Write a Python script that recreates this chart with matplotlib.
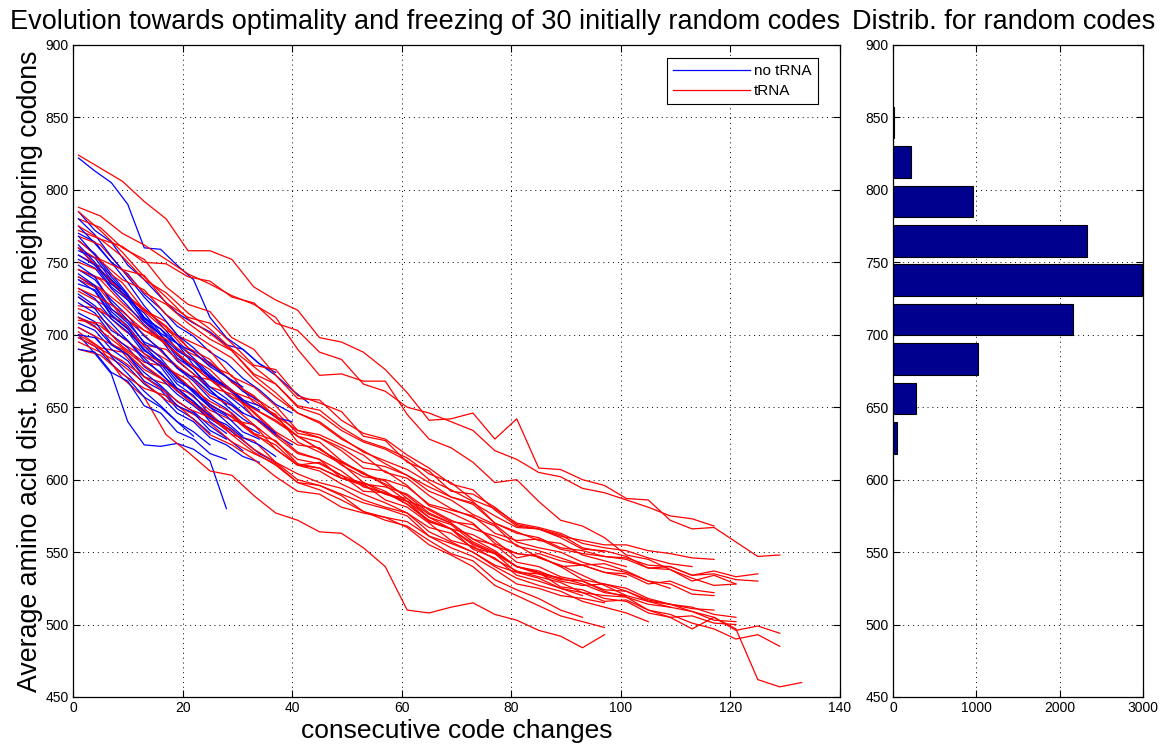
import matplotlib
matplotlib.use("Agg")
import matplotlib.pyplot as plt
import numpy as np

# runs without tRNA, one value every 3 code changes starting at change 1
blue_step = 3
no_trna_runs = [
    [822, 813, 805, 790, 760, 759, 748, 738, 712, 698, 690, 680, 672, 662, 653],
    [785, 772, 764, 748, 738, 726, 715, 708, 702, 693, 690, 680, 674],
    [770, 764, 750, 742, 728, 718, 706, 699, 688, 681, 670, 662, 652, 646],
    [760, 748, 738, 724, 715, 701, 694, 679, 671, 659, 650, 640, 631, 624],
    [700, 687, 673, 640, 624, 623, 625, 621, 613, 580],
    [775, 763, 750, 736, 720, 707, 694, 684, 673, 663, 655],
    [765, 756, 742, 728, 710, 700, 684, 676, 662, 651, 642, 635],
    [752, 746, 732, 720, 707, 697, 682, 673, 662, 652],
    [745, 738, 724, 713, 699, 690, 677, 668, 656, 649, 638, 632],
    [740, 733, 716, 706, 692, 681, 671, 660, 650, 640, 630],
    [735, 731, 714, 704, 690, 680, 666, 658, 645, 636],
    [728, 720, 708, 696, 684, 673, 663, 654, 644, 636, 627, 618, 612],
    [722, 715, 700, 691, 678, 670, 659, 651, 642, 635],
    [715, 709, 694, 686, 674, 665, 654, 647, 637, 629, 620],
    [708, 703, 690, 682, 668, 662, 649, 642, 632],
    [700, 698, 686, 678, 666, 658, 646, 640, 629, 624, 616, 612],
    [698, 692, 680, 670, 657, 650, 640, 633, 624],
    [705, 699, 685, 673, 661, 651, 640, 630],
    [780, 769, 754, 740, 726, 714, 700, 691, 680, 671, 661, 654],
    [758, 753, 738, 727, 712, 704, 690, 683, 671, 665, 655, 651, 643, 640],
    [748, 740, 722, 710, 694, 684, 670, 661, 652, 645],
    [768, 755, 740, 727, 712, 700, 686, 676, 664, 656, 646],
    [742, 734, 718, 708, 695, 690, 677, 670, 660, 654, 646, 641, 632],
    [732, 725, 711, 702, 687, 678, 663, 654, 640, 632],
    [755, 748, 733, 724, 709, 700, 689, 682, 670, 664, 654, 648],
    [712, 706, 693, 686, 671, 664, 651, 646, 634, 628],
    [762, 750, 735, 726, 711, 704, 694, 688, 678, 671, 664],
    [738, 730, 713, 704, 689, 682, 668, 662, 650, 644, 633, 628],
    [726, 718, 703, 696, 682, 674, 661, 654, 643, 638, 629, 624, 616],
    [690, 688, 674, 668, 651, 646, 633, 628, 618, 614],
]

# runs with tRNA, one value every 4 code changes starting at change 1
red_step = 4
trna_runs = [
    [824, 815, 806, 792, 780, 758, 758, 752, 733, 724, 717, 698, 695, 688, 676, 660, 641,
     642, 646, 628, 642, 608, 607, 600, 596, 587, 586, 572, 566, 567, 557, 547, 548],
    [788, 782, 770, 762, 752, 742, 735, 727, 721, 712, 690, 672, 673, 668, 668, 645, 628,
     622, 612, 598, 600, 585, 572, 568, 560, 548, 545, 538, 530, 534, 528],
    [772, 766, 761, 750, 749, 740, 737, 726, 722, 708, 703, 688, 683, 666, 661, 650, 646,
     640, 634, 620, 614, 605, 602, 594, 591, 586, 581, 575, 573, 568],
    [745, 738, 722, 709, 694, 680, 672, 662, 649, 641, 630, 621, 612, 605, 596, 585, 580,
     572, 566, 561, 555, 546, 541, 534, 527, 520, 516, 512, 509, 505, 497, 462, 457, 460],
    [730, 722, 713, 700, 685, 672, 669, 657, 649, 640, 630, 621, 612, 604, 597, 589, 577,
     570, 559, 555, 543, 540, 533, 530, 523, 519, 510, 507, 501, 497, 490, 493, 485],
    [712, 706, 694, 685, 677, 669, 652, 643, 631, 624, 610, 608, 601, 596, 590, 585, 574,
     569, 557, 550, 540, 536, 526, 524, 518, 516, 508, 505, 497, 505, 496, 499, 494],
    [702, 691, 670, 657, 631, 619, 606, 603, 589, 577, 572, 564, 563, 553, 540, 510, 508,
     512, 515, 507, 503, 496, 492, 484, 493],
    [768, 762, 745, 741, 722, 712, 708, 694, 679, 676, 658, 653, 647, 630, 627, 612, 606,
     592, 590, 581, 569, 566, 562, 553, 550],
    [700, 691, 688, 671, 666, 660, 648, 641, 638, 621, 610, 612, 603, 597, 595, 590, 579,
     571, 569, 558, 546, 549, 544, 541, 542, 537, 530, 528, 521, 520],
    [760, 745, 729, 718, 705, 688, 681, 668, 657, 647, 632, 629, 620, 608, 606, 596, 582,
     577, 570, 556, 549, 547, 540, 531, 528, 523, 517, 514, 509, 503, 502],
    [745, 739, 731, 716, 703, 696, 689, 671, 664, 651, 634, 631, 624, 617, 605, 601, 589,
     580, 574, 568, 554, 551, 546, 541, 536, 533],
    [720, 718, 704, 693, 690, 676, 664, 659, 647, 633, 624, 622, 610, 602, 600, 595, 583,
     579, 575, 563, 558, 559, 552, 549, 547, 545, 539, 540, 534, 537, 533, 535],
    [755, 747, 736, 717, 709, 691, 679, 672, 653, 645, 626, 619, 611, 598, 592, 583, 571,
     566, 555, 549, 536, 532, 525, 520],
    [710, 708, 692, 681, 678, 665, 651, 644, 632, 627, 611, 608, 601, 598, 590, 587, 574,
     566, 562, 554, 549, 547, 540, 541, 536, 535, 528, 530, 524, 522],
    [780, 774, 760, 752, 733, 721, 716, 698, 690, 672, 656, 655, 641, 632, 628, 617, 608,
     597, 593, 579, 568, 566, 560, 552, 551, 547, 539, 538, 532, 527, 528],
    [695, 688, 679, 667, 655, 647, 639, 626, 618, 611, 598, 596, 590, 584, 580, 575, 561,
     553, 547, 538, 528, 525, 520, 518, 515],
    [738, 731, 712, 703, 694, 681, 669, 661, 643, 630, 618, 614, 601, 597, 586, 581, 570,
     558, 554, 545, 537, 533, 529, 522, 520, 519, 514, 512],
    [726, 716, 709, 692, 683, 673, 658, 651, 638, 626, 614, 611, 603, 592, 591, 585, 571,
     566, 556, 549, 540, 537, 531, 530, 524, 523, 516, 514, 511, 510],
    [765, 752, 745, 729, 721, 708, 697, 689, 673, 666, 650, 645, 634, 626, 621, 613, 600,
     593, 585, 570, 564, 558, 556, 548, 544, 540],
    [690, 686, 673, 663, 658, 645, 631, 624, 614, 602, 592, 590, 581, 577, 574, 571, 561,
     556, 550, 541, 536, 535, 530, 527, 528, 525, 518, 514, 512, 507, 505],
    [750, 744, 728, 717, 706, 691, 683, 667, 658, 643, 630, 626, 613, 604, 599, 587, 576,
     570, 559, 551, 540, 535, 532],
    [740, 732, 720, 706, 693, 681, 669, 661, 646, 632, 619, 614, 606, 595, 591, 583, 572,
     566, 552, 546, 534, 530, 525, 522, 516, 517, 510, 505, 506, 501, 500],
    [705, 697, 690, 676, 668, 655, 646, 631, 627, 612, 604, 598, 594, 586, 581, 577, 567,
     563, 553, 549, 540, 536, 532, 528, 522, 520],
    [775, 766, 754, 738, 729, 715, 704, 690, 678, 666, 651, 648, 636, 627, 622, 615, 604,
     598, 586, 580, 570, 567, 563, 556, 553, 551, 546, 542, 540],
    [718, 712, 698, 687, 679, 665, 654, 646, 632, 621, 610, 606, 597, 590, 584, 577, 564,
     557, 550, 540, 532, 527, 523, 516, 512, 508, 502],
    [760, 751, 738, 731, 714, 703, 693, 684, 669, 657, 646, 640, 629, 619, 613, 607, 598,
     588, 583, 570, 563, 560, 553, 551, 547, 546, 541, 540, 534, 535, 531, 530],
    [698, 690, 682, 671, 660, 649, 643, 631, 619, 610, 598, 593, 586, 578, 572, 568, 558,
     549, 544, 531, 524, 518, 510, 505],
    [732, 725, 716, 703, 697, 685, 676, 661, 655, 644, 634, 629, 622, 612, 609, 603, 595,
     588, 584, 575, 567, 566, 561, 558, 555, 555, 551, 549, 546, 545],
    [785, 772, 757, 740, 726, 711, 701, 689, 672, 660, 646, 639, 628, 620, 611, 603, 592,
     586, 576, 569, 557, 553, 550, 543, 539, 536, 530, 525],
    [712, 703, 691, 679, 668, 655, 643, 634, 621, 612, 600, 596, 589, 578, 574, 567, 555,
     548, 540, 527, 520, 513, 506, 502, 498],
]

# histogram of random codes
hist_centers = [601.7, 628.9, 656.1, 683.3, 710.5, 737.7, 764.9, 792.1, 819.3, 846.5]
hist_counts = [1, 48, 272, 1020, 2160, 2985, 2330, 960, 212, 15]
bin_width = 27.2

tick_font = ["Liberation Sans Narrow", "Liberation Sans", "DejaVu Sans"]
label_font = ["Liberation Sans", "DejaVu Sans"]

W, H = 1167, 749
fig = plt.figure(figsize=(W / 100, H / 100), dpi=100)
ax = fig.add_axes([73 / W, 52 / H, 767 / W, 652 / H])
ax_h = fig.add_axes([893 / W, 52 / H, 250 / W, 652 / H])

h_blue = h_red = None
for i in range(max(len(no_trna_runs), len(trna_runs))):
    if i < len(no_trna_runs):
        y = no_trna_runs[i]
        x = 1 + blue_step * np.arange(len(y))
        h_blue, = ax.plot(x, y, color=(0, 0, 1), lw=0.9)
    if i < len(trna_runs):
        y = trna_runs[i]
        x = 1 + red_step * np.arange(len(y))
        h_red, = ax.plot(x, y, color=(1, 0, 0), lw=0.9)

ax.set_xlim(0, 140)
ax.set_ylim(450, 900)
ax.set_xticks(np.arange(0, 141, 20))
ax.set_yticks(np.arange(450, 901, 50))
ax.set_xlabel("consecutive code changes", fontsize=19, family=label_font, labelpad=3)
ax.set_ylabel("Average amino acid dist. between neighboring codons", fontsize=19.3,
              family=label_font, labelpad=2)
leg = ax.legend([h_blue, h_red], ["no tRNA", "tRNA"], loc="upper right",
                bbox_to_anchor=(0.971, 0.98), borderaxespad=0, fancybox=False,
                framealpha=1, edgecolor="black", handlelength=5.0, handletextpad=0.3,
                borderpad=0.4, labelspacing=0.4, prop={"family": tick_font, "size": 11})
leg.get_frame().set_linewidth(0.8)

ax_h.barh(hist_centers, hist_counts, height=0.8 * bin_width, color=(0, 0, 0.56),
          edgecolor="black", linewidth=0.8)
ax_h.set_xlim(0, 3000)
ax_h.set_ylim(450, 900)
ax_h.set_xticks([0, 1000, 2000, 3000])
ax_h.set_yticks(np.arange(450, 901, 50))

# titles sit a little left of the axes centres, as in the original
fig.text(425 / W, 1 - 22 / H, "Evolution towards optimality and freezing of 30 initially random codes",
         fontsize=19.5, family=label_font, ha="center", va="center")
fig.text(1004 / W, 1 - 22 / H, "Distrib. for random codes",
         fontsize=19.5, family=label_font, ha="center", va="center")

for a in (ax, ax_h):
    a.grid(True, linestyle=(0, (1, 4)), color="black", linewidth=0.7)
    a.set_axisbelow(True)
    a.tick_params(direction="in", top=True, right=True, length=5, width=0.8,
                  labelsize=10, pad=3)
    for lab in a.get_xticklabels() + a.get_yticklabels():
        lab.set_family(tick_font)
    for s in a.spines.values():
        s.set_linewidth(0.9)

fig.savefig("out.png", dpi=100)
